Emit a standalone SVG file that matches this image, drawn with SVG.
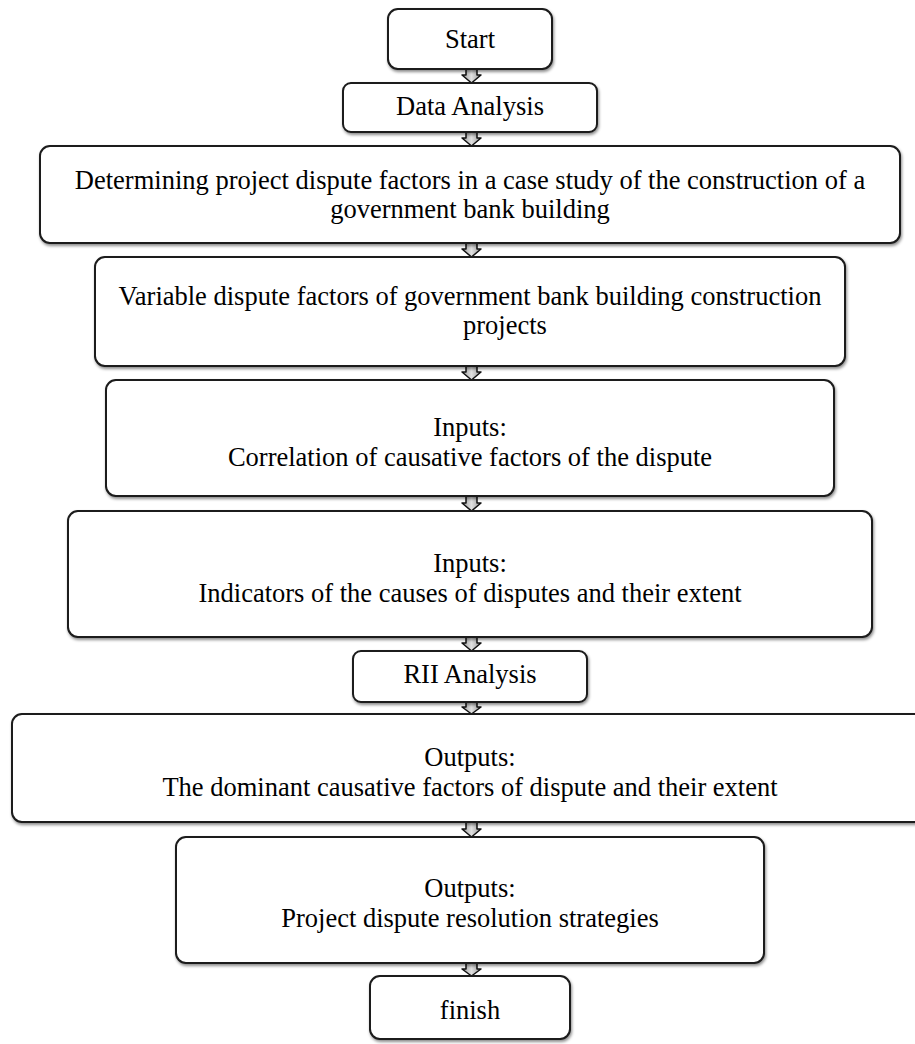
<svg xmlns="http://www.w3.org/2000/svg" width="915" height="1044" viewBox="0 0 915 1044">
<defs>
<filter id="sh" x="-5%" y="-10%" width="110%" height="130%">
<feDropShadow dx="1" dy="2" stdDeviation="1.5" flood-color="#000" flood-opacity="0.45"/>
</filter>
<linearGradient id="ag" x1="0" y1="0" x2="1" y2="0">
<stop offset="0" stop-color="#9a9a9a"/>
<stop offset="0.5" stop-color="#e0e0e0"/>
<stop offset="1" stop-color="#9a9a9a"/>
</linearGradient>
<style>
.box{fill:#fff;stroke:#1a1a1a;stroke-width:2;filter:url(#sh)}
.t{font-family:"Liberation Serif","Times New Roman",serif;font-size:26.5px;fill:#000;text-anchor:middle}
.arr{fill:url(#ag);stroke:#111;stroke-width:1.5;stroke-linejoin:round}
</style>
</defs>
<rect width="915" height="1044" fill="#fff"/>
<g id="connectors">
<path class="arr" d="M466,68 L477,68 L477,75 L481,75 L471.5,83 L462,75 L466,75 Z"/>
<path class="arr" d="M466,131 L477,131 L477,138 L481,138 L471.5,146 L462,138 L466,138 Z"/>
<path class="arr" d="M466,242 L477,242 L477,249 L481,249 L471.5,257 L462,249 L466,249 Z"/>
<path class="arr" d="M466,365 L477,365 L477,372 L481,372 L471.5,380 L462,372 L466,372 Z"/>
<path class="arr" d="M466,495 L477,495 L477,503 L481,503 L471.5,511 L462,503 L466,503 Z"/>
<path class="arr" d="M466,636 L477,636 L477,643 L481,643 L471.5,651 L462,643 L466,643 Z"/>
<path class="arr" d="M466,701 L477,701 L477,707 L481,707 L471.5,714 L462,707 L466,707 Z"/>
<path class="arr" d="M466,821 L477,821 L477,829 L481,829 L471.5,837 L462,829 L466,829 Z"/>
<path class="arr" d="M466,962 L477,962 L477,969 L481,969 L471.5,976 L462,969 L466,969 Z"/>
</g>
<g id="start">
<rect class="box" x="388" y="9" width="164" height="60" rx="10"/>
<text class="t" x="470" y="48">Start</text>
</g>
<g id="data-analysis">
<rect class="box" x="343" y="83" width="254" height="49" rx="8"/>
<text class="t" x="470" y="115">Data Analysis</text>
</g>
<g id="determining">
<rect class="box" x="40" y="146" width="860" height="97" rx="10"/>
<text class="t" x="470" y="189">Determining project dispute factors in a case study of the construction of a</text>
<text class="t" x="470" y="218">government bank building</text>
</g>
<g id="variable">
<rect class="box" x="95" y="257" width="750" height="109" rx="10"/>
<text class="t" x="470" y="305">Variable dispute factors of government bank building construction</text>
<text class="t" x="505" y="334">projects</text>
</g>
<g id="correlation">
<rect class="box" x="106" y="380" width="728" height="116" rx="10"/>
<text class="t" x="470" y="436">Inputs:</text>
<text class="t" x="470" y="466">Correlation of causative factors of the dispute</text>
</g>
<g id="indicators">
<rect class="box" x="68" y="511" width="804" height="126" rx="10"/>
<text class="t" x="470" y="572">Inputs:</text>
<text class="t" x="470" y="602">Indicators of the causes of disputes and their extent</text>
</g>
<g id="rii">
<rect class="box" x="353" y="651" width="234" height="51" rx="8"/>
<text class="t" x="470" y="683">RII Analysis</text>
</g>
<g id="outputs-dominant">
<rect class="box" x="12" y="714" width="920" height="108" rx="10"/>
<text class="t" x="470" y="766">Outputs:</text>
<text class="t" x="470" y="796">The dominant causative factors of dispute and their extent</text>
</g>
<g id="outputs-strategies">
<rect class="box" x="176" y="837" width="588" height="126" rx="10"/>
<text class="t" x="470" y="897">Outputs:</text>
<text class="t" x="470" y="927">Project dispute resolution strategies</text>
</g>
<g id="finish">
<rect class="box" x="370" y="976" width="200" height="63" rx="10"/>
<text class="t" x="470" y="1019">finish</text>
</g>
</svg>
